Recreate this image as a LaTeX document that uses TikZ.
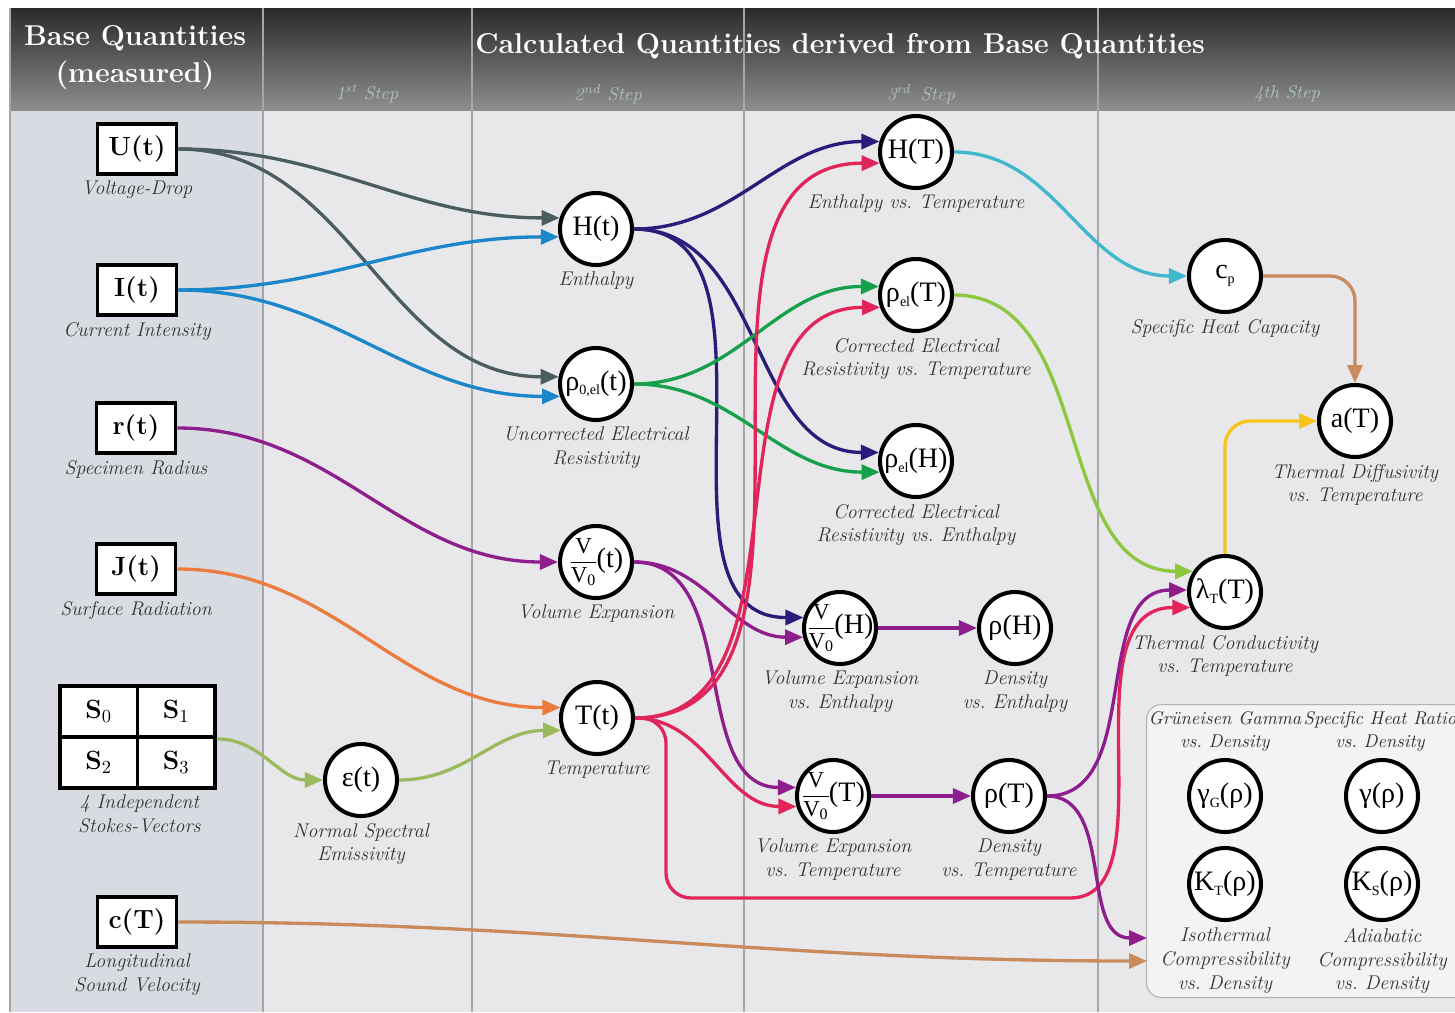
\documentclass[tikz,border=0pt]{standalone}
\usepackage{fontspec}
\usepackage{amsmath}
\usetikzlibrary{positioning,arrows.meta}
\newfontfamily\qfont{Liberation Serif}
\frenchspacing

\definecolor{basecol}{HTML}{D8DCE2}
\definecolor{calccol}{HTML}{E8E8EA}
\definecolor{hdtop}{HTML}{2A2A2A}
\definecolor{hdbot}{HTML}{8E8E8E}
\definecolor{colgray}{HTML}{A6A6A8}
\definecolor{steptext}{HTML}{AFC2BA}
\definecolor{panelfill}{HTML}{F3F3F3}
\definecolor{cslate}{HTML}{4B5D5E}
\definecolor{cblue}{HTML}{1B86C9}
\definecolor{cpurple}{HTML}{8E1E8C}
\definecolor{corange}{HTML}{EC7B3F}
\definecolor{colive}{HTML}{9BBA5E}
\definecolor{cbrown}{HTML}{C98A5C}
\definecolor{cnavy}{HTML}{2A1C7A}
\definecolor{cgreen}{HTML}{17A04B}
\definecolor{ccrimson}{HTML}{E1255A}
\definecolor{cteal}{HTML}{3FB7CD}
\definecolor{clime}{HTML}{8DC63F}
\definecolor{cgold}{HTML}{F7C41A}

\newcommand{\vovz}{{\fontsize{13}{13}\selectfont$\dfrac{\text{V}}{\text{V}_{\text{0}}}$}\kern-1pt}
\newcommand{\qsub}[1]{\raisebox{-0.35ex}{\fontsize{8}{8}\selectfont #1}}

\tikzset{
  base/.style={draw, line width=2.2pt, fill=white, minimum width=1.58cm,
    minimum height=1cm, inner sep=0pt, font=\bfseries\fontsize{15}{17}\selectfont},
  stokes/.style={base, minimum width=1.55cm, minimum height=1.02cm},
  qty/.style={circle, draw, line width=2.3pt, fill=white, minimum size=1.44cm,
    inner sep=0pt, font=\qfont\fontsize{16}{18}\selectfont},
  fracqty/.style={qty, inner sep=-8pt},
  lbl/.style={align=center, text=black!80, inner sep=1pt,
    font=\itshape\fontsize{11.3}{13.5}\selectfont},
  toplbl/.style={lbl, font=\itshape\fontsize{10.5}{13}\selectfont},
  conn/.style={line width=1.9pt, -{Triangle[length=0.36cm,width=0.3cm]}},
  steplbl/.style={text=steptext, font=\itshape\fontsize{10.5}{12}\selectfont},
  head/.style={text=white, align=center, font=\bfseries\fontsize{16.3}{21}\selectfont},
  colline/.style={draw=colgray, line width=1.6pt},
  panel/.style={draw=black!30, fill=panelfill, rounded corners=0.3cm, line width=0.6pt,
    minimum width=6.46cm, minimum height=5.86cm},
}

\begin{document}
\begin{tikzpicture}[x=0.02cm, y=0.02cm]
    \useasboundingbox (0,0) rectangle (1455,-1012);
    \fill[white] (0,0) rectangle (1455,-1012);

    % columns and header
    \fill[basecol] (10,-110) rectangle (263,-1012);
    \fill[calccol] (263,-110) rectangle (1455,-1012);
    \shade[top color=hdtop, bottom color=hdbot] (10,-8) rectangle (1455,-110);
    \foreach \cx in {10,263,472,744,1098}
    {
        \draw[colline] (\cx,-8) -- (\cx,-1012);
    }

    \node[head] (hbase) at (135,-58) {Base Quantities\\(measured)};
    \node[head] (hcalc) at (840,-46) {Calculated Quantities derived from Base Quantities};
    \node[steplbl] (step1) at (367,-94) {1\textsuperscript{st} Step};
    \node[steplbl] (step2) at (608,-94) {2\textsuperscript{nd} Step};
    \node[steplbl] (step3) at (921,-94) {3\textsuperscript{rd}\, Step};
    \node[steplbl] (step4) at (1287,-94) {4th Step};

    \node[panel] (panel) at (1308,-851) {};
    \coordinate (isoin) at (1147,-938);
    \coordinate (sndin) at (1147,-961);

    % base quantities
    \node[base] (Ut) at (137,-149) {U(t)};
    \node[lbl, below=0.06cm of Ut] (UtL) {Voltage-Drop};
    \node[base] (It) at (137,-290) {I(t)};
    \node[lbl, below=0.06cm of It] (ItL) {Current Intensity};
    \node[base] (rt) at (136,-428) {r(t)};
    \node[lbl, below=0.06cm of rt] (rtL) {Specimen Radius};
    \node[base] (Jt) at (136,-569) {J(t)};
    \node[lbl, below=0.06cm of Jt] (JtL) {Surface Radiation};
    \node[stokes] (S0) at (98.75,-711.5) {S\textsubscript{\mdseries 0}};
    \node[stokes] (S1) at (176.25,-711.5) {S\textsubscript{\mdseries 1}};
    \node[stokes] (S2) at (98.75,-762.5) {S\textsubscript{\mdseries 2}};
    \node[stokes] (S3) at (176.25,-762.5) {S\textsubscript{\mdseries 3}};
    \node[lbl, below=0.06cm of S2.south east] (SL) {4 Independent\\Stokes-Vectors};
    \node[base] (cT) at (137,-922) {c(T)};
    \node[lbl, below=0.06cm of cT] (cTL) {Longitudinal\\Sound Velocity};

    % 1st and 2nd step
    \node[qty] (et) at (361,-780) {ε(t)};
    \node[lbl, below=0.06cm of et] (etL) {Normal Spectral\\Emissivity};
    \node[qty] (Ht) at (596,-229) {H(t)};
    \node[lbl, below=0.06cm of Ht] (HtL) {Enthalpy};
    \node[qty] (rt0) at (596,-384) {ρ\qsub{0,el}(t)};
    \node[lbl, below=0.06cm of rt0] (rt0L) {Uncorrected Electrical\\Resistivity};
    \node[fracqty] (Vt) at (596,-562) {\vovz(t)};
    \node[lbl, below=0.06cm of Vt] (VtL) {Volume Expansion};
    \node[qty] (Tt) at (597,-718) {T(t)};
    \node[lbl, below=0.06cm of Tt] (TtL) {Temperature};

    % 3rd step
    \node[qty] (HT) at (916,-152) {H(T)};
    \node[lbl, below=0.06cm of HT] (HTL) {Enthalpy vs. Temperature};
    \node[qty] (reT) at (916,-295) {ρ\qsub{el}(T)};
    \node[lbl, below=0.06cm of reT] (reTL) {Corrected Electrical\\Resistivity vs. Temperature};
    \node[qty] (reH) at (916,-461) {ρ\qsub{el}(H)};
    \node[lbl, below=0.06cm of reH] (reHL) {Corrected Electrical\\Resistivity vs. Enthalpy};
    \node[fracqty] (VH) at (840,-628) {\vovz(H)};
    \node[lbl, below=0.06cm of VH] (VHL) {Volume Expansion\\vs. Enthalpy};
    \node[qty] (dH) at (1015,-628) {ρ(H)};
    \node[lbl, below=0.06cm of dH] (dHL) {Density\\vs. Enthalpy};
    \node[fracqty] (VT) at (833,-796) {\vovz(T)};
    \node[lbl, below=0.06cm of VT] (VTL) {Volume Expansion\\vs. Temperature};
    \node[qty] (dT) at (1009,-796) {ρ(T)};
    \node[lbl, below=0.06cm of dT] (dTL) {Density\\vs. Temperature};

    % 4th step
    \node[qty] (cp) at (1225,-276) {c\qsub{p}};
    \node[lbl, below=0.06cm of cp] (cpL) {Specific Heat Capacity};
    \node[qty] (aT) at (1355,-421) {a(T)};
    \node[lbl, below=0.06cm of aT] (aTL) {Thermal Diffusivity\\vs. Temperature};
    \node[qty] (lT) at (1225,-592) {λ\qsub{T}(T)};
    \node[lbl, below=0.06cm of lT] (lTL) {Thermal Conductivity\\vs. Temperature};
    \node[qty] (gG) at (1225,-796) {γ\qsub{G}(ρ)};
    \node[toplbl, above=0.1cm of gG] (gGL) {Grüneisen Gamma\\vs. Density};
    \node[qty] (gR) at (1382,-796) {γ(ρ)};
    \node[toplbl, above=0.1cm of gR, xshift=-0.04cm] (gRL) {Specific Heat Ratio\\vs. Density};
    \node[qty] (KT) at (1225,-884) {K\qsub{T}(ρ)};
    \node[lbl, below=0.08cm of KT] (KTL) {Isothermal\\Compressibility\\vs. Density};
    \node[qty] (KS) at (1382,-884) {K\qsub{S}(ρ)};
    \node[lbl, below=0.08cm of KS] (KSL) {Adiabatic\\Compressibility\\vs. Density};

    % connectors
    \draw[conn, cslate]   (Ut.east) to[out=0,in=180] (Ht.163);
    \draw[conn, cslate]   (Ut.east) to[out=0,in=180] (rt0.169);
    \draw[conn, cblue]    (It.east) to[out=0,in=180] (Ht.192);
    \draw[conn, cblue]    (It.east) to[out=0,in=180] (rt0.199);
    \draw[conn, cpurple]  (rt.east) to[out=0,in=180] (Vt.west);
    \draw[conn, corange]  (Jt.east) to[out=0,in=180] (Tt.164);
    \draw[conn, colive]   (S1.south east) to[out=0,in=180] (et.west);
    \draw[conn, colive]   (et.east) to[out=0,in=180] (Tt.199);
    \draw[conn, cbrown]   (cT.east) to[out=0,in=180] (sndin);

    \draw[conn, cnavy]    (Ht.east) to[out=0,in=180] (HT.164);
    \draw[conn, cnavy]    (Ht.east) to[out=0,in=180] (reH.167);
    \draw[conn, cnavy]    (Ht.east) to[out=0,in=180] (VH.164);
    \draw[conn, cgreen]   (rt0.east) to[out=0,in=180] (reT.167);
    \draw[conn, cgreen]   (rt0.east) to[out=0,in=180] (reH.197);
    \draw[conn, cpurple]  (Vt.east) to[out=0,in=180] (VH.194);
    \draw[conn, cpurple]  (Vt.east) to[out=0,in=180] (VT.167);
    \draw[conn, ccrimson] (Tt.east) to[out=0,in=180] (HT.197);
    \draw[conn, ccrimson] (Tt.east) to[out=0,in=180] (reT.199);
    \draw[conn, ccrimson] (Tt.east) to[out=0,in=180] (VT.196);
    \draw[conn, ccrimson, rounded corners=0.5cm] (Tt.east) -| (666,-898) -- (1045,-898)
        to[out=0,in=180] (lT.204);

    \draw[conn, cpurple]  (VH.east) -- (dH.west);
    \draw[conn, cpurple]  (VT.east) -- (dT.west);
    \draw[conn, cpurple]  (dT.east) to[out=0,in=180] (lT.177);
    \draw[conn, cpurple]  (dT.east) to[out=0,in=180] (isoin);

    \draw[conn, cteal]    (HT.east) to[out=0,in=180] (cp.west);
    \draw[conn, clime]    (reT.east) to[out=0,in=180] (lT.147);
    \draw[conn, cbrown, rounded corners=0.5cm] (cp.east) -| (aT.north);
    \draw[conn, cgold, rounded corners=0.5cm]  (lT.north) |- (aT.west);
\end{tikzpicture}
\end{document}
